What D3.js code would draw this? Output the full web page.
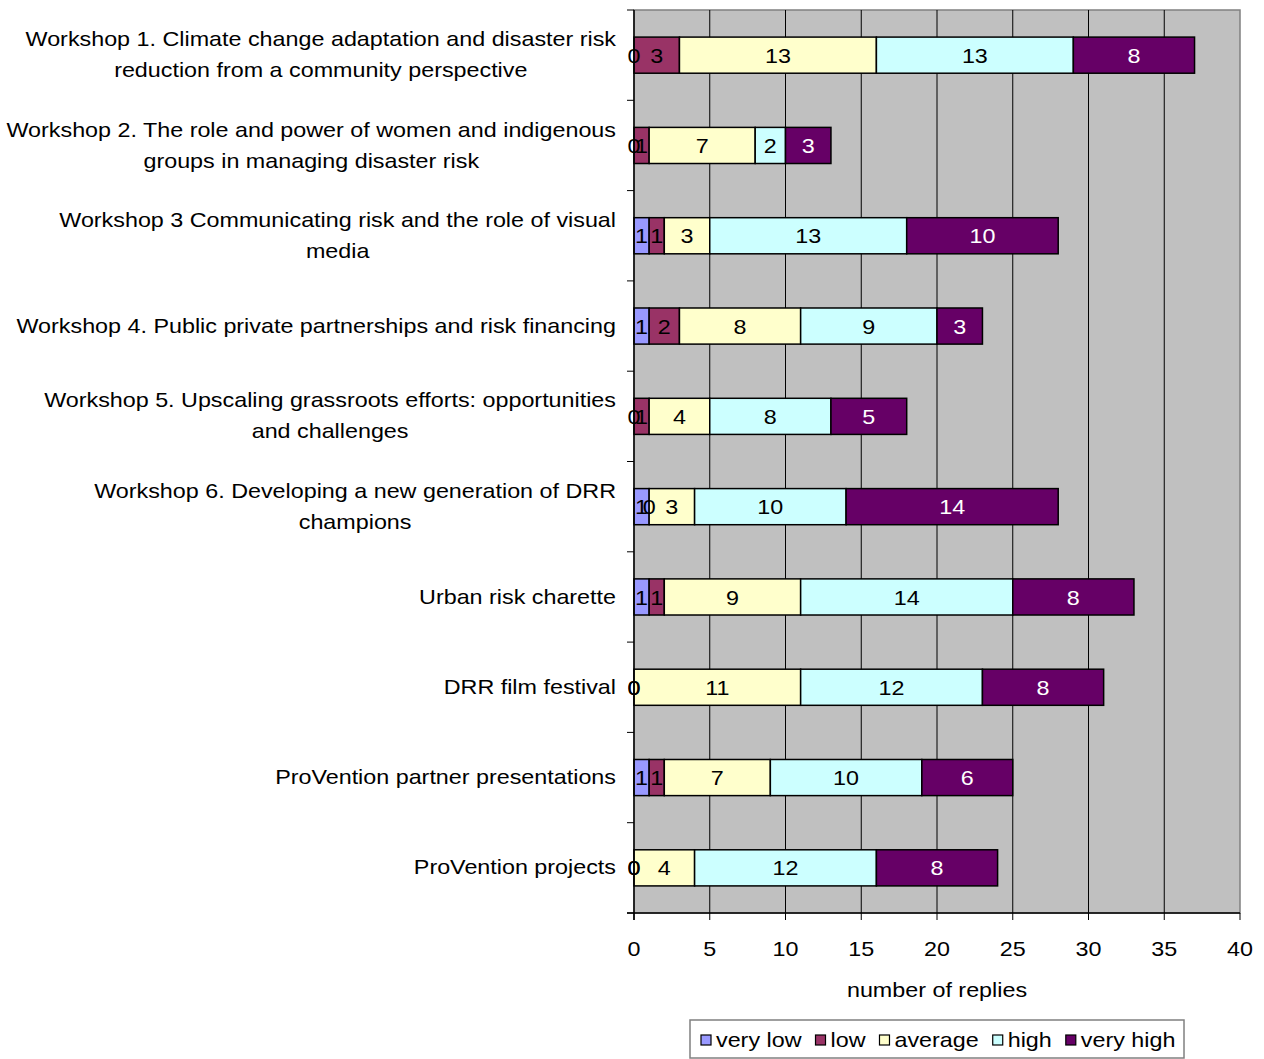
<!DOCTYPE html>
<html>
<head>
<meta charset="utf-8">
<script src="https://cdn.jsdelivr.net/npm/d3@7"></script>
<style>
  body { margin: 0; background: #fff; }
  text { font-family: "Liberation Sans", Arial, sans-serif; }
</style>
</head>
<body>
<div id="chart"></div>
<script>
(function () {
  const categories = [
    "Workshop 1. Climate change adaptation and disaster risk|reduction from a community perspective",
    "Workshop 2. The role and power of women and indigenous|groups in managing disaster risk",
    "Workshop 3 Communicating risk and the role of visual|media",
    "Workshop 4. Public private partnerships and risk financing",
    "Workshop 5. Upscaling grassroots efforts: opportunities|and challenges",
    "Workshop 6. Developing a new generation of DRR|champions",
    "Urban risk charette",
    "DRR film festival",
    "ProVention partner presentations",
    "ProVention projects"
  ]
  const seriesNames = ["very low", "low", "average", "high", "very high"]
  const seriesColors = ["#9999FF", "#993366", "#FFFFCC", "#CCFFFF", "#660066"]
  const veryLow = [0, 0, 1, 1, 0, 1, 1, 0, 1, 0]
  const low = [3, 1, 1, 2, 1, 0, 1, 0, 1, 0]
  const average = [13, 7, 3, 8, 4, 3, 9, 11, 7, 4]
  const high = [13, 2, 13, 9, 8, 10, 14, 12, 10, 12]
  const veryHigh = [8, 3, 10, 3, 5, 14, 8, 8, 6, 8]
  const xTicks = [0, 5, 10, 15, 20, 25, 30, 35, 40]

  const series = [veryLow, low, average, high, veryHigh]

  const width = 1264
  const height = 1059
  const plot = { left: 634, right: 1240, top: 10, bottom: 913 }
  const fontSize = 21
  const stretch = 1.11

  // the source font runs a bit wider than Liberation Sans, so stretch it
  function widen(sel) {
    sel.each(function () {
      const w = this.getComputedTextLength()
      d3.select(this)
        .attr('textLength', w * stretch)
        .attr('lengthAdjust', 'spacingAndGlyphs')
    })
    return sel
  }

  const svg = d3.select('#chart').append('svg')
    .attr('width', width)
    .attr('height', height)

  const x = d3.scaleLinear([0, 40], [plot.left, plot.right])
  const y = d3.scaleBand(categories.map(function (c, i) { return i }), [plot.top, plot.bottom])
    .paddingInner(0.6).paddingOuter(0.3)
  const yBand = d3.scaleBand(categories.map(function (c, i) { return i }), [plot.top, plot.bottom])

  // plot background
  svg.append('rect')
    .attr('x', plot.left).attr('y', plot.top)
    .attr('width', plot.right - plot.left).attr('height', plot.bottom - plot.top)
    .attr('fill', '#C0C0C0')
    .attr('stroke', '#808080')
    .attr('stroke-width', 1.5)

  // vertical gridlines
  svg.append('g')
    .selectAll('line')
    .data(xTicks.slice(1, -1))
    .join('line')
      .attr('x1', d => x(d)).attr('x2', d => x(d))
      .attr('y1', plot.top).attr('y2', plot.bottom)
      .attr('stroke', '#000').attr('stroke-width', 1)

  // stacked data
  const rows = categories.map(function (c, i) {
    const row = { index: i }
    seriesNames.forEach(function (s, j) { row[s] = series[j][i] })
    return row
  })
  const stacked = d3.stack().keys(seriesNames)(rows)

  const layers = svg.append('g')
    .selectAll('g')
    .data(stacked)
    .join('g')
      .attr('fill', (d, i) => seriesColors[i])

  layers.selectAll('rect')
    .data(d => d.filter(v => v[1] > v[0]))
    .join('rect')
      .attr('x', d => x(d[0]))
      .attr('y', d => y(d.data.index))
      .attr('width', d => x(d[1]) - x(d[0]))
      .attr('height', y.bandwidth())
      .attr('stroke', '#000')
      .attr('stroke-width', 1.5)

  // value labels
  stacked.forEach(function (layer, j) {
    svg.append('g')
      .selectAll('text')
      .data(layer)
      .join('text')
        .attr('x', d => x((d[0] + d[1]) / 2))
        .attr('y', d => y(d.data.index) + y.bandwidth() / 2)
        .attr('dy', '0.36em')
        .attr('text-anchor', 'middle')
        .attr('font-size', fontSize)
        .attr('fill', j === 4 ? '#fff' : '#000')
        .text(d => d[1] - d[0])
        .call(widen)
  })

  // axes
  svg.append('line')
    .attr('x1', plot.left).attr('x2', plot.left)
    .attr('y1', plot.top).attr('y2', plot.bottom + 7)
    .attr('stroke', '#000').attr('stroke-width', 1.5)
  svg.append('line')
    .attr('x1', plot.left - 7).attr('x2', plot.right)
    .attr('y1', plot.bottom).attr('y2', plot.bottom)
    .attr('stroke', '#000').attr('stroke-width', 1.5)

  // category ticks at band boundaries
  svg.append('g')
    .selectAll('line')
    .data(d3.range(categories.length + 1))
    .join('line')
      .attr('x1', plot.left - 7).attr('x2', plot.left)
      .attr('y1', i => plot.top + i * yBand.step())
      .attr('y2', i => plot.top + i * yBand.step())
      .attr('stroke', '#000').attr('stroke-width', 1)

  // x ticks
  svg.append('g')
    .selectAll('line')
    .data(xTicks)
    .join('line')
      .attr('x1', d => x(d)).attr('x2', d => x(d))
      .attr('y1', plot.bottom).attr('y2', plot.bottom + 7)
      .attr('stroke', '#000').attr('stroke-width', 1)

  svg.append('g')
    .selectAll('text')
    .data(xTicks)
    .join('text')
      .attr('x', d => x(d))
      .attr('y', 948)
      .attr('dy', '0.36em')
      .attr('text-anchor', 'middle')
      .attr('font-size', fontSize)
      .text(d => d)
      .call(widen)

  svg.append('text')
    .attr('x', x(20))
    .attr('y', 989)
    .attr('dy', '0.36em')
    .attr('text-anchor', 'middle')
    .attr('font-size', fontSize)
    .text('number of replies')
    .call(widen)

  // category labels, multi-line centered, block right aligned
  categories.forEach(function (cat, i) {
    const lines = cat.split('|')
    const g = svg.append('g')
    const texts = lines.map(function (line) {
      return g.append('text')
        .attr('font-size', fontSize)
        .attr('text-anchor', 'middle')
        .attr('dy', '0.36em')
        .text(line)
        .call(widen)
    })
    const maxW = d3.max(texts, t => +t.attr('textLength'))
    const cx = 616 - maxW / 2
    const cy = yBand(i) + yBand.bandwidth() / 2
    const lh = 31
    texts.forEach(function (t, k) {
      t.attr('x', cx).attr('y', cy - 1 + (k - (lines.length - 1) / 2) * lh)
    })
  })

  // legend
  const legend = svg.append('g')
  legend.append('rect')
    .attr('x', 690).attr('y', 1020)
    .attr('width', 494).attr('height', 38)
    .attr('fill', '#fff')
    .attr('stroke', '#808080').attr('stroke-width', 1.5)

  let lx = 701
  seriesNames.forEach(function (name, i) {
    legend.append('rect')
      .attr('x', lx).attr('y', 1035)
      .attr('width', 10).attr('height', 10)
      .attr('fill', seriesColors[i])
      .attr('stroke', '#000').attr('stroke-width', 1.2)
    const t = legend.append('text')
      .attr('x', lx + 15).attr('y', 1039)
      .attr('dy', '0.36em')
      .attr('font-size', fontSize)
      .text(name)
      .call(widen)
    lx += 15 + (+t.attr('textLength')) + 14
  })
})();
</script>
</body>
</html>
